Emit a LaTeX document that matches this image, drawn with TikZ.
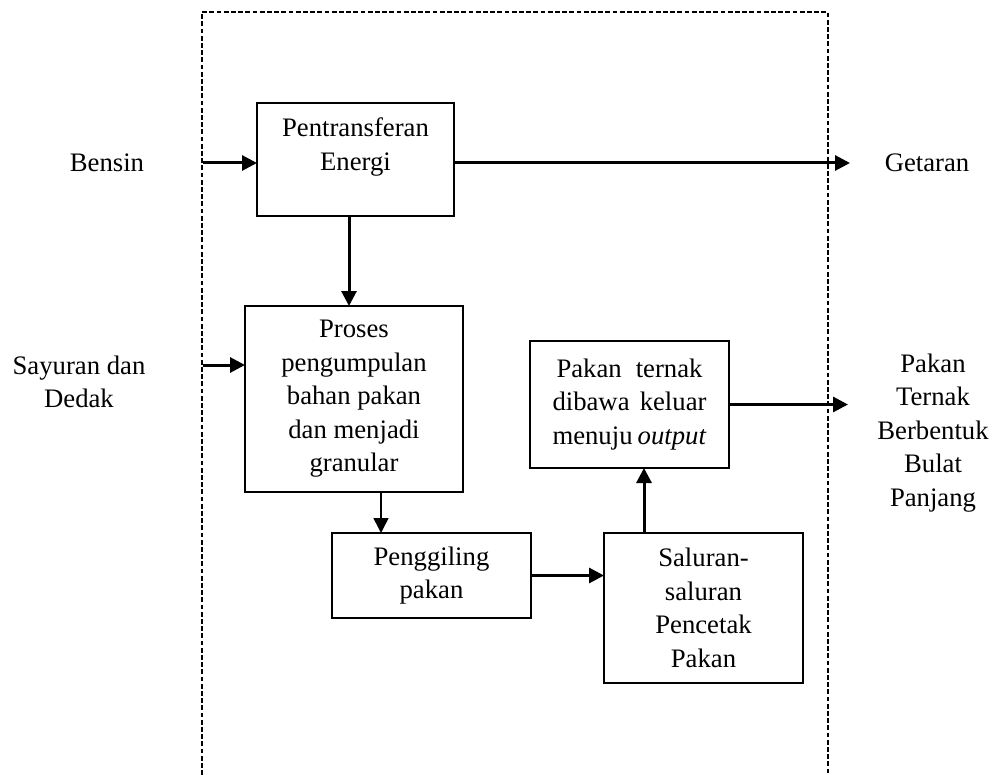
\documentclass[tikz,border=0pt]{standalone}
\usepackage{fontspec}
\setmainfont{Liberation Serif}
\usetikzlibrary{arrows.meta,calc}
\begin{document}
\begin{tikzpicture}[x=0.5pt,y=-0.5pt,
  box/.style={draw, line width=1pt, inner sep=0pt, outer sep=0pt, align=center,
    font=\fontsize{13.35}{16.75}\selectfont},
  txt/.style={inner sep=0pt, outer sep=0pt, align=center,
    font=\fontsize{13.35}{16.75}\selectfont},
  arr/.style={line width=1.5pt, -{Triangle[length=7.5pt,width=7.5pt]}},
  thinarr/.style={line width=0.8pt, -{Triangle[length=7.5pt,width=7.5pt]}},
  frame/.style={line width=0.8pt, dash pattern=on 2.4pt off 1.2pt}]
\useasboundingbox (0,0) rectangle (995,775);

% system boundary (open at the bottom)
\coordinate (fbl) at (202,775);
\coordinate (ftl) at (202,12);
\coordinate (ftr) at (828,12);
\coordinate (fbr) at (828,775);
\draw[frame] (fbl) -- (ftl) -- (ftr) -- (fbr);

% boxes
\node[box, minimum width=98.5pt, minimum height=56.5pt] (pe) at (355.5,159.5) {};
\node[txt] (pet) at (355.5,147) {Pentransferan\\Energi};
\node[box, minimum width=109pt, minimum height=93pt] (pr) at (354,399)
  {Proses\\pengumpulan\\bahan pakan\\dan menjadi\\granular};
\node[box, minimum width=99.5pt, minimum height=42.5pt] (pg) at (431.5,575.5)
  {Penggiling\\pakan};
\node[box, minimum width=99.5pt, minimum height=75pt] (sal) at (703.5,608)
  {Saluran-\\saluran\\Pencetak\\Pakan};
\node[box, minimum width=99.5pt, minimum height=63.5pt] (pk) at (629.5,404.5)
  {\makebox[73pt][s]{Pakan ternak}\\\makebox[77pt][s]{dibawa keluar}\\\makebox[77pt][s]{menuju \textit{output}}};

% outside labels
\node[txt] (bensin) at (107,163) {Bensin};
\node[txt] (getaran) at (927,163) {Getaran};
\node[txt] (sayur) at (79,382) {Sayuran dan\\Dedak};
\node[txt] (hasil) at (933,433) {Pakan\\Ternak\\Berbentuk\\Bulat\\Panjang};

% connector helpers
\coordinate (bin) at (203,163);
\coordinate (sin) at (203,365);
\coordinate (gout) at (850,163);
\coordinate (pout) at (848,404.5);
\coordinate (ax1) at (349,0);
\coordinate (ax2) at (381,0);
\coordinate (ax3) at (644,0);

% connectors
\draw[arr] (bin) -- (bin -| pe.west);
\draw[arr] (pe.east |- gout) -- (gout);
\draw[arr] (pe.south -| ax1) -- (pr.north -| ax1);
\draw[arr] (sin) -- (sin -| pr.west);
\draw[thinarr] (pr.south -| ax2) -- (pg.north -| ax2);
\draw[arr] (pg.east) -- (pg.east -| sal.west);
\draw[arr] (sal.north -| ax3) -- (pk.south -| ax3);
\draw[arr] (pk.east) -- (pout);
\end{tikzpicture}
\end{document}
